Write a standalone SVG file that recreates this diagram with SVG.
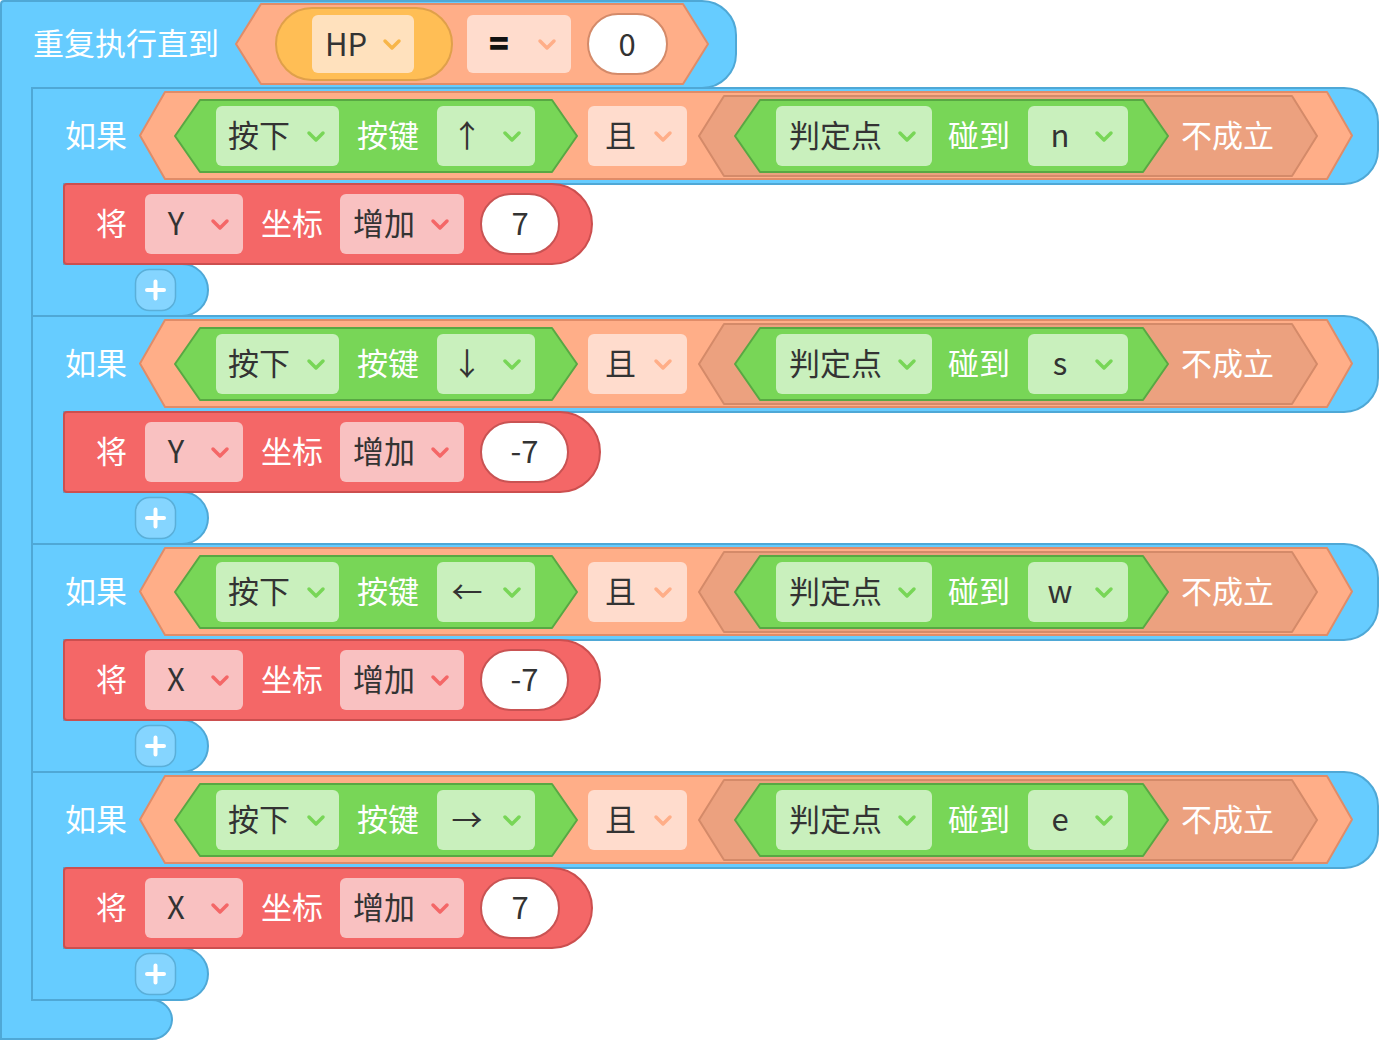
<svg xmlns="http://www.w3.org/2000/svg" width="1380" height="1040" viewBox="0 0 1380 1040">
<style>
text{font-family:"Noto Sans CJK SC","Noto Sans",sans-serif;font-size:31px;dominant-baseline:central}
.w{fill:#ffffff}
.d{fill:#333333}
.blue{fill:#66ccff;stroke:#4fa8d6;stroke-width:2}
.op{fill:#ffae88;stroke:#e08c68;stroke-width:2;stroke-linejoin:round}
.not{fill:#eca17f;stroke:#d48a69;stroke-width:2;stroke-linejoin:round}
.grn{fill:#78d657;stroke:#58a843;stroke-width:2;stroke-linejoin:round}
.gbox{fill:#c9f0bd}
.pbox{fill:#ffdccd}
.red{fill:#f46767;stroke:#cc4f4f;stroke-width:2}
.rbox{fill:#f9c1c1}
.pill{fill:#ffffff;stroke:#c95353;stroke-width:2}
.pill0{fill:#ffffff;stroke:#d48a69;stroke-width:2}
.chev{fill:none;stroke-width:3.5;stroke-linecap:round;stroke-linejoin:round}
.cg{stroke:#78d657}
.cp{stroke:#ffae88}
.cr{stroke:#f46767}
.co{stroke:#f7b64a}
.plus{fill:#85d5ff;stroke:#5aafd9;stroke-width:1.5}
.pl{stroke:#ffffff;stroke-width:4;stroke-linecap:round;fill:none}
</style>
<defs>
<path id="chev" d="M-7,-4 L0,3 L7,-4"/>
</defs>

<g id="repeat">
<path class="blue" d="M1,4 Q1,1 4,1 H702 A34 34 0 0 1 736 35 V54 A34 34 0 0 1 702 88 H32 V1000 H152 A20 20 0 0 1 172 1020 A20 20 0 0 1 152 1039 H1 Z"/>
<text class="w" x="33" y="41" font-size="32">重复执行直到</text>
<polygon class="op" points="236,44 261,4 683,4 708,44 683,84 261,84"/>
<rect x="276" y="8" width="176" height="72" rx="36" fill="#ffbe55" stroke="#e0a04a" stroke-width="2"/>
<rect x="312" y="15" width="102" height="58" rx="6" fill="#ffe1bd"/>
<text class="d" x="325" y="42">HP</text>
<use href="#chev" x="392" y="45" class="chev co"/>
<rect class="pbox" x="467" y="15" width="104" height="58" rx="6"/>
<text x="499" y="41" text-anchor="middle" font-weight="bold" fill="#111" stroke="#111" stroke-width="1.6">=</text>
<use href="#chev" x="547" y="45" class="chev cp"/>
<rect class="pill0" x="588" y="14" width="79" height="60" rx="30"/>
<text class="d" x="627" y="42" text-anchor="middle">0</text>
</g>

<g id="if1" transform="translate(0,88)">
<path class="blue" d="M32,0 H1344 A34 34 0 0 1 1378 34 V62 A34 34 0 0 1 1344 96 H64 V176 H182 A26 26 0 0 1 208 202 A26 26 0 0 1 182 228 H32 Z"/>
<text class="w" x="65" y="45">如果</text>
<polygon class="op" points="140,47.5 165,4 1327,4 1352,47.5 1327,91 165,91"/>
<polygon class="grn" points="175,48 200,12 552,12 577,48 552,84 200,84"/>
<rect class="gbox" x="216" y="18" width="123" height="60" rx="6"/>
<text class="d" x="228" y="45">按下</text>
<use href="#chev" x="316" y="49" class="chev cg"/>
<text class="w" x="357" y="45">按键</text>
<rect class="gbox" x="437" y="18" width="98" height="60" rx="6"/>
<text class="d" x="467" y="45" text-anchor="middle">↑</text>
<use href="#chev" x="512" y="49" class="chev cg"/>
<rect class="pbox" x="588" y="18" width="99" height="60" rx="6"/>
<text class="d" x="605" y="45">且</text>
<use href="#chev" x="663" y="49" class="chev cp"/>
<polygon class="not" points="699,48 724,8 1292,8 1317,48 1292,88 724,88"/>
<polygon class="grn" points="735,48 760,12 1143,12 1168,48 1143,84 760,84"/>
<rect class="gbox" x="776" y="18" width="156" height="60" rx="6"/>
<text class="d" x="789" y="45">判定点</text>
<use href="#chev" x="907" y="49" class="chev cg"/>
<text class="w" x="948" y="45">碰到</text>
<rect class="gbox" x="1028" y="18" width="100" height="60" rx="6"/>
<text class="d" x="1060" y="45" text-anchor="middle">n</text>
<use href="#chev" x="1104" y="49" class="chev cg"/>
<text class="w" x="1181" y="45">不成立</text>
<g id="move1">
<path class="red" d="M64,99 Q64,96 67,96 H552 A40 40 0 0 1 552 176 H67 Q64,176 64,173 Z"/>
<text class="w" x="96" y="133">将</text>
<rect class="rbox" x="145" y="106" width="98" height="60" rx="6"/>
<text class="d" x="176" y="133" text-anchor="middle">Y</text>
<use href="#chev" x="220" y="137" class="chev cr"/>
<text class="w" x="261" y="133">坐标</text>
<rect class="rbox" x="340" y="106" width="124" height="60" rx="6"/>
<text class="d" x="353" y="133">增加</text>
<use href="#chev" x="440" y="137" class="chev cr"/>
<rect class="pill" x="481" y="106" width="78" height="60" rx="30"/>
<text class="d" x="520" y="133" text-anchor="middle">7</text>
</g>
<rect class="plus" x="135.5" y="181.5" width="40" height="41" rx="14"/>
<path class="pl" d="M147,202 H164 M155.5,193.5 V210.5"/>
</g>

<g id="if2" transform="translate(0,316)">
<path class="blue" d="M32,0 H1344 A34 34 0 0 1 1378 34 V62 A34 34 0 0 1 1344 96 H64 V176 H182 A26 26 0 0 1 208 202 A26 26 0 0 1 182 228 H32 Z"/>
<text class="w" x="65" y="45">如果</text>
<polygon class="op" points="140,47.5 165,4 1327,4 1352,47.5 1327,91 165,91"/>
<polygon class="grn" points="175,48 200,12 552,12 577,48 552,84 200,84"/>
<rect class="gbox" x="216" y="18" width="123" height="60" rx="6"/>
<text class="d" x="228" y="45">按下</text>
<use href="#chev" x="316" y="49" class="chev cg"/>
<text class="w" x="357" y="45">按键</text>
<rect class="gbox" x="437" y="18" width="98" height="60" rx="6"/>
<text class="d" x="467" y="45" text-anchor="middle">↓</text>
<use href="#chev" x="512" y="49" class="chev cg"/>
<rect class="pbox" x="588" y="18" width="99" height="60" rx="6"/>
<text class="d" x="605" y="45">且</text>
<use href="#chev" x="663" y="49" class="chev cp"/>
<polygon class="not" points="699,48 724,8 1292,8 1317,48 1292,88 724,88"/>
<polygon class="grn" points="735,48 760,12 1143,12 1168,48 1143,84 760,84"/>
<rect class="gbox" x="776" y="18" width="156" height="60" rx="6"/>
<text class="d" x="789" y="45">判定点</text>
<use href="#chev" x="907" y="49" class="chev cg"/>
<text class="w" x="948" y="45">碰到</text>
<rect class="gbox" x="1028" y="18" width="100" height="60" rx="6"/>
<text class="d" x="1060" y="45" text-anchor="middle">s</text>
<use href="#chev" x="1104" y="49" class="chev cg"/>
<text class="w" x="1181" y="45">不成立</text>
<g id="move2">
<path class="red" d="M64,99 Q64,96 67,96 H560 A40 40 0 0 1 560 176 H67 Q64,176 64,173 Z"/>
<text class="w" x="96" y="133">将</text>
<rect class="rbox" x="145" y="106" width="98" height="60" rx="6"/>
<text class="d" x="176" y="133" text-anchor="middle">Y</text>
<use href="#chev" x="220" y="137" class="chev cr"/>
<text class="w" x="261" y="133">坐标</text>
<rect class="rbox" x="340" y="106" width="124" height="60" rx="6"/>
<text class="d" x="353" y="133">增加</text>
<use href="#chev" x="440" y="137" class="chev cr"/>
<rect class="pill" x="481" y="106" width="87" height="60" rx="30"/>
<text class="d" x="524.5" y="133" text-anchor="middle">-7</text>
</g>
<rect class="plus" x="135.5" y="181.5" width="40" height="41" rx="14"/>
<path class="pl" d="M147,202 H164 M155.5,193.5 V210.5"/>
</g>

<g id="if3" transform="translate(0,544)">
<path class="blue" d="M32,0 H1344 A34 34 0 0 1 1378 34 V62 A34 34 0 0 1 1344 96 H64 V176 H182 A26 26 0 0 1 208 202 A26 26 0 0 1 182 228 H32 Z"/>
<text class="w" x="65" y="45">如果</text>
<polygon class="op" points="140,47.5 165,4 1327,4 1352,47.5 1327,91 165,91"/>
<polygon class="grn" points="175,48 200,12 552,12 577,48 552,84 200,84"/>
<rect class="gbox" x="216" y="18" width="123" height="60" rx="6"/>
<text class="d" x="228" y="45">按下</text>
<use href="#chev" x="316" y="49" class="chev cg"/>
<text class="w" x="357" y="45">按键</text>
<rect class="gbox" x="437" y="18" width="98" height="60" rx="6"/>
<text class="d" x="467" y="45" text-anchor="middle">←</text>
<use href="#chev" x="512" y="49" class="chev cg"/>
<rect class="pbox" x="588" y="18" width="99" height="60" rx="6"/>
<text class="d" x="605" y="45">且</text>
<use href="#chev" x="663" y="49" class="chev cp"/>
<polygon class="not" points="699,48 724,8 1292,8 1317,48 1292,88 724,88"/>
<polygon class="grn" points="735,48 760,12 1143,12 1168,48 1143,84 760,84"/>
<rect class="gbox" x="776" y="18" width="156" height="60" rx="6"/>
<text class="d" x="789" y="45">判定点</text>
<use href="#chev" x="907" y="49" class="chev cg"/>
<text class="w" x="948" y="45">碰到</text>
<rect class="gbox" x="1028" y="18" width="100" height="60" rx="6"/>
<text class="d" x="1060" y="45" text-anchor="middle">w</text>
<use href="#chev" x="1104" y="49" class="chev cg"/>
<text class="w" x="1181" y="45">不成立</text>
<g id="move3">
<path class="red" d="M64,99 Q64,96 67,96 H560 A40 40 0 0 1 560 176 H67 Q64,176 64,173 Z"/>
<text class="w" x="96" y="133">将</text>
<rect class="rbox" x="145" y="106" width="98" height="60" rx="6"/>
<text class="d" x="176" y="133" text-anchor="middle">X</text>
<use href="#chev" x="220" y="137" class="chev cr"/>
<text class="w" x="261" y="133">坐标</text>
<rect class="rbox" x="340" y="106" width="124" height="60" rx="6"/>
<text class="d" x="353" y="133">增加</text>
<use href="#chev" x="440" y="137" class="chev cr"/>
<rect class="pill" x="481" y="106" width="87" height="60" rx="30"/>
<text class="d" x="524.5" y="133" text-anchor="middle">-7</text>
</g>
<rect class="plus" x="135.5" y="181.5" width="40" height="41" rx="14"/>
<path class="pl" d="M147,202 H164 M155.5,193.5 V210.5"/>
</g>

<g id="if4" transform="translate(0,772)">
<path class="blue" d="M32,0 H1344 A34 34 0 0 1 1378 34 V62 A34 34 0 0 1 1344 96 H64 V176 H182 A26 26 0 0 1 208 202 A26 26 0 0 1 182 228 H32 Z"/>
<text class="w" x="65" y="45">如果</text>
<polygon class="op" points="140,47.5 165,4 1327,4 1352,47.5 1327,91 165,91"/>
<polygon class="grn" points="175,48 200,12 552,12 577,48 552,84 200,84"/>
<rect class="gbox" x="216" y="18" width="123" height="60" rx="6"/>
<text class="d" x="228" y="45">按下</text>
<use href="#chev" x="316" y="49" class="chev cg"/>
<text class="w" x="357" y="45">按键</text>
<rect class="gbox" x="437" y="18" width="98" height="60" rx="6"/>
<text class="d" x="467" y="45" text-anchor="middle">→</text>
<use href="#chev" x="512" y="49" class="chev cg"/>
<rect class="pbox" x="588" y="18" width="99" height="60" rx="6"/>
<text class="d" x="605" y="45">且</text>
<use href="#chev" x="663" y="49" class="chev cp"/>
<polygon class="not" points="699,48 724,8 1292,8 1317,48 1292,88 724,88"/>
<polygon class="grn" points="735,48 760,12 1143,12 1168,48 1143,84 760,84"/>
<rect class="gbox" x="776" y="18" width="156" height="60" rx="6"/>
<text class="d" x="789" y="45">判定点</text>
<use href="#chev" x="907" y="49" class="chev cg"/>
<text class="w" x="948" y="45">碰到</text>
<rect class="gbox" x="1028" y="18" width="100" height="60" rx="6"/>
<text class="d" x="1060" y="45" text-anchor="middle">e</text>
<use href="#chev" x="1104" y="49" class="chev cg"/>
<text class="w" x="1181" y="45">不成立</text>
<g id="move4">
<path class="red" d="M64,99 Q64,96 67,96 H552 A40 40 0 0 1 552 176 H67 Q64,176 64,173 Z"/>
<text class="w" x="96" y="133">将</text>
<rect class="rbox" x="145" y="106" width="98" height="60" rx="6"/>
<text class="d" x="176" y="133" text-anchor="middle">X</text>
<use href="#chev" x="220" y="137" class="chev cr"/>
<text class="w" x="261" y="133">坐标</text>
<rect class="rbox" x="340" y="106" width="124" height="60" rx="6"/>
<text class="d" x="353" y="133">增加</text>
<use href="#chev" x="440" y="137" class="chev cr"/>
<rect class="pill" x="481" y="106" width="78" height="60" rx="30"/>
<text class="d" x="520" y="133" text-anchor="middle">7</text>
</g>
<rect class="plus" x="135.5" y="181.5" width="40" height="41" rx="14"/>
<path class="pl" d="M147,202 H164 M155.5,193.5 V210.5"/>
</g>

<g id="connectors"></g>
</svg>
